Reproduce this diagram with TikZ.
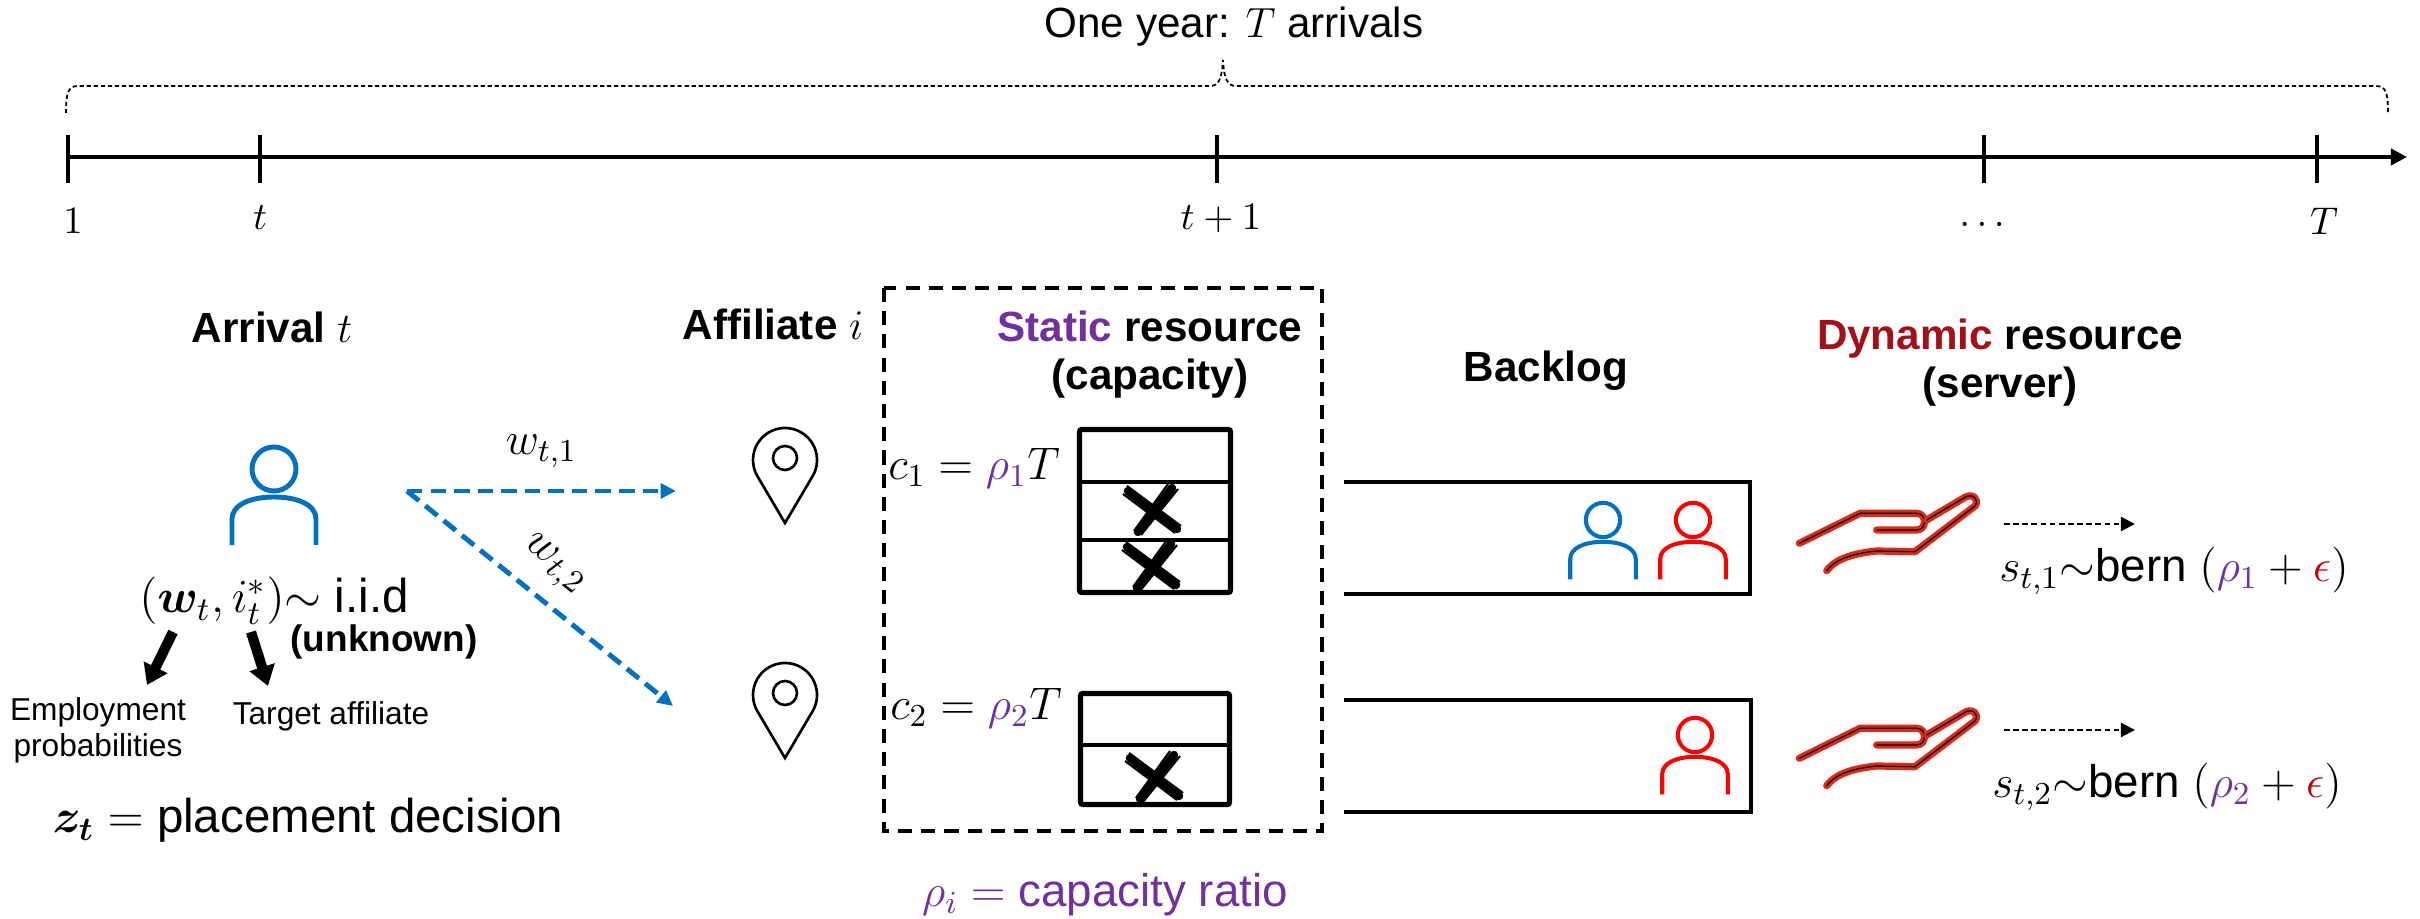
\RequirePackage{fix-cm}
\documentclass[tikz,border=0pt]{standalone}
\usepackage{amsmath}
\usepackage{bm}
\usepackage[no-math]{fontspec}
\setmainfont{Liberation Sans}
\usepackage{tikz}
\usetikzlibrary{arrows.meta,positioning,calc}

\definecolor{iconblue}{HTML}{0070C0}
\definecolor{capviolet}{HTML}{7030A0}
\definecolor{dynred}{HTML}{A50F18}
\definecolor{handred}{HTML}{DE2A14}
\definecolor{epsred}{HTML}{C00000}

\tikzstyle{headlabel} = [font=\fontsize{12}{13.8}\selectfont\bfseries, align=center, anchor=base]
\tikzstyle{mathlabel} = [font=\fontsize{13}{15}\selectfont, anchor=base]
\tikzstyle{smalllabel} = [font=\fontsize{9}{10.5}\selectfont, align=center, anchor=base]
\tikzstyle{ticklabel} = [font=\fontsize{11}{13}\selectfont, anchor=base]
\tikzstyle{tickline} = [line width=1.2pt]
\tikzstyle{timeline} = [line width=1.3pt, -{Triangle[length=4.6pt,width=4.6pt]}]
\tikzstyle{yearbrace} = [line width=0.5pt, dash pattern=on 1.2pt off 0.8pt]
\tikzstyle{wire} = [iconblue, line width=1.4pt, dash pattern=on 4.4pt off 2.3pt, -{Triangle[length=4.4pt,width=4.2pt]}]
\tikzstyle{blockarrow} = [line width=2.9pt, -{Triangle[length=5.6pt,width=7.2pt]}]
\tikzstyle{capregion} = [line width=1pt, dash pattern=on 4pt off 2.6pt]
\tikzstyle{capframe} = [line width=1.45pt, rounded corners=0.6pt]
\tikzstyle{capdiv} = [line width=1.1pt]
\tikzstyle{queueline} = [line width=1.3pt]
\tikzstyle{serve} = [line width=0.6pt, dash pattern=on 1.6pt off 1pt, -{Triangle[length=4pt,width=4pt]}]
\tikzstyle{handline} = [draw=handred, line width=0.85pt, double=black, double distance=0.35pt, line cap=round, line join=round]

\tikzset{
  person/.pic={
    \draw (0,0) circle[radius=22];
    \draw (-42,76) -- (-42,50) .. controls (-42,36) and (-24,28) .. (0,28)
          .. controls (24,28) and (42,36) .. (42,50) -- (42,76);
  },
  mappin/.pic={
    \draw (27.6,16.2) arc[start angle=30.4, end angle=-209.6, radius=32] -- (0,63) -- cycle;
    \draw (0,-2) circle[radius=12];
  },
  hand/.pic={
    \draw[handline] (-100.7,13.3) -- (-40,-16.7) -- (16.7,-16.7)
          .. controls (27,-16.7) and (27,0) .. (16.7,0) -- (-23.3,0);
    \draw[handline] (26.7,-10) -- (65,-32.7) .. controls (72,-37) and (80,-31) .. (75,-24)
          -- (15,21.7) -- (-23.3,21) .. controls (-53.3,24) and (-66.7,31.7) .. (-73.3,40.7);
  },
  brushx/.pic={
    \draw[line width=2.4pt, line cap=round] (-25,-19) -- (24,19);
    \draw[line width=2.4pt, line cap=round] (19,-22) -- (-15,22);
    \draw[line width=0.6pt] (-30,-16) -- (22,23);
    \draw[line width=0.6pt] (-26,-24) -- (28,16);
    \draw[line width=0.6pt] (25,-21) -- (-12,25);
    \draw[line width=0.6pt] (15,-26) -- (-19,21);
  }
}

\begin{document}
\begin{tikzpicture}[x=0.01cm, y=-0.01cm]
    \useasboundingbox (0,0) rectangle (2420,919);

    % time axis with its ticks
    \coordinate (ax0) at (68,157);
    \coordinate (ax1) at (2407,157);
    \draw[timeline] (ax0) -- (ax1);
    \foreach \x/\lx/\lab/\ly in {68/73/1/234, 260/260/t/230, 1217/1221/t+1/230, 1984/1982/\ldots/227, 2317/2324/T/235} {
        \draw[tickline] (\x,135) -- (\x,183);
        \node[ticklabel] (tl-\x) at (\lx,\ly) {$\lab$};
    }

    % brace over the year
    \coordinate (brL) at (66,113);
    \coordinate (brTip) at (1223,60);
    \coordinate (brR) at (2388,113);
    \draw[yearbrace] (brL) .. controls (66,93) and (68,86) .. (78,86) -- (1210,86)
        .. controls (1219,86) and (1222,78) .. (brTip)
        .. controls (1224,78) and (1227,86) .. (1236,86) -- (2376,86)
        .. controls (2386,86) and (2388,93) .. (brR);
    \node[font=\fontsize{12}{14}\selectfont, anchor=base] (year) at (1234,38) {One year: $T$ arrivals};

    % column titles (multi-line ones sit on their last line)
    \node[headlabel] (arrival) at (272,343) {Arrival $t$};
    \node[headlabel] (affil) at (773,340) {Affiliate $i$};
    \node[headlabel] (static) at (1150,390) {\textcolor{capviolet}{Static} resource\\(capacity)};
    \node[headlabel] (backlog) at (1546,382) {Backlog};
    \node[headlabel] (dynamic) at (2000,398) {\textcolor{dynred}{Dynamic} resource\\(server)};

    % arrival
    \pic[iconblue, line width=1.4pt] (arr) at (274,469) {person};
    \node[font=\fontsize{13.5}{16}\selectfont, anchor=base] (iid) at (274,613) {$(\bm{w}_t, i_t^*)$$\sim$ i.i.d};
    \node[font=\fontsize{10.5}{12}\selectfont\bfseries, anchor=base] (unk) at (384,652) {(unknown)};
    \coordinate (e0) at (173,632);
    \coordinate (e1) at (147,685);
    \coordinate (g0) at (251,632);
    \coordinate (g1) at (268,686);
    \draw[blockarrow] (e0) -- (e1);
    \draw[blockarrow] (g0) -- (g1);
    \node[smalllabel] (emp) at (98,757) {Employment\\probabilities};
    \node[smalllabel] (tgt) at (331,725) {Target affiliate};
    \node[font=\fontsize{13.5}{16}\selectfont, anchor=base] (place) at (308,833) {$\bm{z}_{\bm{t}} =$ placement decision};

    % routing to affiliates
    \coordinate (fork) at (407,491);
    \coordinate (to1) at (676,491);
    \coordinate (to2) at (673,706);
    \draw[wire] (fork) -- node[midway, above=2.5pt, text=black, font=\fontsize{13}{15}\selectfont] (w1) {$w_{t,1}$} (to1);
    \draw[wire] (fork) -- node[pos=0.47, sloped, above=1pt, text=black, font=\fontsize{13}{15}\selectfont] (w2) {$w_{t,2}$} (to2);
    \pic[line width=0.75pt] (pin1) at (785,460) {mappin};
    \pic[line width=0.75pt] (pin2) at (785,695) {mappin};

    % static resource
    \draw[capregion] (884,288) rectangle (1322,831);
    \node[mathlabel] (c1) at (974,480) {$c_1 = \textcolor{capviolet}{\rho_1}T$};
    \node[mathlabel] (c2) at (976,720) {$c_2 = \textcolor{capviolet}{\rho_2}T$};
    \draw[capframe] (1079.5,429.5) rectangle (1230.5,592.5);
    \draw[capdiv] (1079.5,482) -- (1230.5,482);
    \draw[capdiv] (1079.5,540) -- (1230.5,540);
    \pic (x11) at (1153,510) {brushx};
    \pic (x12) at (1152,566) {brushx};
    \draw[capframe] (1080.5,693.5) rectangle (1229.5,804.5);
    \draw[capdiv] (1080.5,745) -- (1229.5,745);
    \pic (x21) at (1155,777) {brushx};
    \node[font=\fontsize{13}{15}\selectfont, text=capviolet, anchor=base] (ratio) at (1105,907) {$\rho_i =$ capacity ratio};

    % backlogs
    \draw[queueline] (1344,482) -- (1750,482) -- (1750,594) -- (1344,594);
    \draw[queueline] (1344,700) -- (1751,700) -- (1751,812) -- (1344,812);
    \pic[iconblue, line width=1.15pt, scale=0.78] (qp1) at (1603,520) {person};
    \pic[red, line width=1.15pt, scale=0.78] (qp2) at (1693,520) {person};
    \pic[red, line width=1.15pt, scale=0.78] (qp3) at (1695,735) {person};

    % servers
    \pic (hand1) at (1900,530) {hand};
    \pic (hand2) at (1900,745) {hand};
    \coordinate (s1a) at (2004,524);
    \coordinate (s1b) at (2135,524);
    \coordinate (s2a) at (2004,730);
    \coordinate (s2b) at (2135,730);
    \draw[serve] (s1a) -- (s1b);
    \draw[serve] (s2a) -- (s2b);
    \node[mathlabel] (bern1) at (2174,582) {$s_{t,1}$$\sim$bern $(\textcolor{capviolet}{\rho_1} + \textcolor{epsred}{\epsilon})$};
    \node[mathlabel] (bern2) at (2167,798) {$s_{t,2}$$\sim$bern $(\textcolor{capviolet}{\rho_2} + \textcolor{epsred}{\epsilon})$};

\end{tikzpicture}
\end{document}
